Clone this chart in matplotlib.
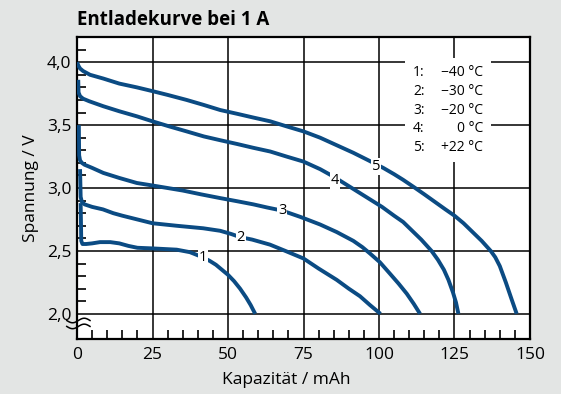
import numpy as np
import matplotlib.pyplot as plt
from matplotlib.patches import Rectangle

plt.rcParams['font.family'] = ['Open Sans', 'DejaVu Sans']

# ---------------------------------------------------------------
# Discharge curves at 1 A, capacity [mAh] vs. voltage [V]
# ---------------------------------------------------------------
cap_1 = [1.2, 1.4, 1.8, 3, 5, 7.6, 11, 14, 17, 20, 25, 29, 33, 37.4, 41.6,
         44, 46, 48, 50, 52, 54, 56, 57.5, 59]
volt_1 = [2.88, 2.58, 2.555, 2.555, 2.56, 2.57, 2.57, 2.56, 2.54, 2.525, 2.52, 2.515, 2.51, 2.49, 2.45,
          2.42, 2.39, 2.35, 2.31, 2.26, 2.20, 2.13, 2.07, 2.0]

cap_2 = [1.0, 1.2, 1.6, 2.5, 5, 8.6, 12, 15, 20, 25, 29, 33, 41.8, 47.4, 51, 54, 58, 63.9,
         69, 75, 80, 86, 90, 93.7, 97, 100.5]
volt_2 = [3.15, 2.93, 2.89, 2.87, 2.85, 2.83, 2.80, 2.78, 2.75, 2.72, 2.71, 2.70, 2.68, 2.66, 2.635, 2.61, 2.59, 2.55,
          2.50, 2.44, 2.36, 2.27, 2.20, 2.14, 2.07, 2.0]

cap_3 = [0.6, 0.7, 1.0, 1.6, 2.5, 5, 8.7, 14, 19.8, 25, 30, 35, 41, 47.4, 53, 58.4, 63, 68, 74,
         80.5, 86, 91.5, 94.5, 97, 100.3, 103.6, 106.5, 109.2, 111.5, 113.6]
volt_3 = [3.5, 3.26, 3.22, 3.20, 3.185, 3.16, 3.12, 3.08, 3.04, 3.02, 3.0, 2.98, 2.95, 2.92, 2.895, 2.87, 2.845, 2.82, 2.77,
          2.71, 2.65, 2.58, 2.53, 2.48, 2.41, 2.32, 2.24, 2.16, 2.08, 2.0]

cap_4 = [0.4, 0.5, 1.0, 2.0, 4.0, 8.7, 14, 19.8, 25, 30.5, 36.3, 42, 47.4, 53, 58.3, 64, 69.4, 75,
         80.5, 85, 89, 93, 97, 101, 105, 108, 111, 114, 117.4, 119.5, 121.5, 123, 124.5, 125.5, 126.3]
volt_4 = [3.86, 3.76, 3.73, 3.71, 3.69, 3.65, 3.61, 3.57, 3.53, 3.49, 3.45, 3.41, 3.38, 3.35, 3.32, 3.29, 3.25, 3.21,
          3.15, 3.09, 3.03, 2.97, 2.91, 2.85, 2.78, 2.73, 2.66, 2.59, 2.50, 2.43, 2.35, 2.27, 2.17, 2.09, 2.0]

cap_5 = [0.0, 0.5, 1.0, 2.0, 4.3, 8.7, 14, 19.8, 25, 30, 36.3, 42, 47.4, 53, 58.4, 64, 69.4, 75,
         80.5, 86, 91.5, 96.5, 101.4, 105, 108, 112, 115, 118.5, 122, 125, 128, 131, 134, 137,
         138.5, 140, 142, 144, 145.6]
volt_5 = [4.0, 3.97, 3.95, 3.93, 3.90, 3.87, 3.83, 3.80, 3.77, 3.74, 3.70, 3.66, 3.62, 3.59, 3.56, 3.53, 3.49, 3.45,
          3.40, 3.34, 3.28, 3.22, 3.16, 3.11, 3.065, 3.0, 2.95, 2.89, 2.83, 2.78, 2.72, 2.65, 2.58, 2.5,
          2.45, 2.38, 2.25, 2.11, 2.0]

curves = [(cap_1, volt_1), (cap_2, volt_2), (cap_3, volt_3), (cap_4, volt_4), (cap_5, volt_5)]

# curve number positions (capacity, voltage)
label_ids = ["1", "2", "3", "4", "5"]
label_cap = [41.6, 54.2, 68, 85.4, 99]
label_volt = [2.45, 2.61, 2.82, 3.06, 3.17]

# temperature key
key_ids = ["1:", "2:", "3:", "4:", "5:"]
key_temps = ["\u221240 °C", "\u221230 °C", "\u221220 °C", "0 °C", "+22 °C"]
key_volt = [3.92, 3.77, 3.62, 3.47, 3.32]

x_ticks = [0, 25, 50, 75, 100, 125, 150]
x_minor = [v for v in range(5, 150, 5) if v % 25]
y_ticks = [2.0, 2.5, 3.0, 3.5, 4.0]
y_minor = [round(2.0 + 0.1 * i, 1) for i in range(1, 22) if i % 5]
y_ticklabels = ["2,0", "2,5", "3,0", "3,5", "4,0"]

BG = "#e3e5e4"
BLUE = "#0b4b83"

# ---------------------------------------------------------------
# Plot
# ---------------------------------------------------------------
fig = plt.figure(figsize=(5.61, 3.94), dpi=100, facecolor=BG)
ax = fig.add_axes([0.1373, 0.1396, 0.8074, 0.7664])
ax.set_xlim(0, 150)
ax.set_ylim(1.8, 4.2)

for cap, volt in curves:
    ax.plot(cap, volt, color=BLUE, lw=2.8, solid_capstyle="butt", solid_joinstyle="round", zorder=3)

for lid, lx, ly in zip(label_ids, label_cap, label_volt):
    ax.text(lx, ly, lid, fontsize=10.5, ha="center", va="center", zorder=4,
            bbox=dict(facecolor="white", edgecolor="none", pad=0.6))

for s in ax.spines.values():
    s.set_linewidth(1.6)

# grid, ticks and tick labels
ax.set_xticks(x_ticks)
ax.set_yticks(y_ticks)
ax.set_yticklabels(y_ticklabels)
ax.grid(True, which="major", color="black", lw=1.1, zorder=1)
ax.set_axisbelow(True)
ax.tick_params(which="major", length=0, labelsize=12.5, pad=6)
ax.tick_params(axis="y", which="major", pad=4)
ax.set_xticks(x_minor, minor=True)
ax.set_yticks(y_minor, minor=True)
ax.tick_params(which="minor", direction="in", length=6.5, width=1.2, color="black")

# white area behind the temperature key
ax.add_patch(Rectangle((108.6, 3.21), 28.5, 0.82, facecolor="white", edgecolor="none", zorder=2))
for kid, kt, ky in zip(key_ids, key_temps, key_volt):
    ax.text(111.3, ky, kid, fontsize=10, ha="left", va="center", zorder=5)
    ax.text(134.4, ky, kt, fontsize=10, ha="right", va="center", zorder=5)

# axis break on the voltage axis: two wavy strokes
t = np.linspace(-3.4, 4.3, 60)
wave = 0.018 * np.sin((t + 3.4) / 7.7 * 2 * np.pi)
ax.plot(t, 1.90 - wave, color="black", lw=1.1, clip_on=False, zorder=7)
ax.plot(t, 1.947 - wave, color="black", lw=1.1, clip_on=False, zorder=7)

ax.set_xlabel("Kapazität / mAh", fontsize=12.5)
ax.xaxis.set_label_coords(0.461, -0.108)
ax.set_ylabel("Spannung / V", fontsize=12.5, labelpad=6)
fig.text(0.1373, 0.925, "Entladekurve bei 1 A", fontsize=13.5, fontweight="bold", ha="left", va="bottom")

fig.savefig("out.png", dpi=100, facecolor=BG)
